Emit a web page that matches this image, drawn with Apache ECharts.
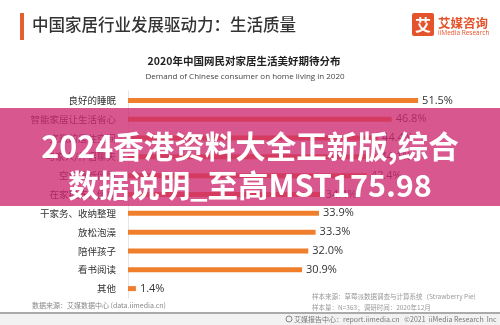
<!DOCTYPE html>
<html>
<head>
<meta charset="utf-8">
<script src="https://cdn.jsdelivr.net/npm/echarts@6/dist/echarts.min.js"></script>
<style>
html,body{margin:0;padding:0;background:#fff;}
#c{width:500px;height:325px;}
</style>
</head>
<body>
<div id="c"></div>
<script>
var categories = ['良好的睡眠','智能家居让生活省心','宽敞的居住空间','与家人/伴侣聊天','空气清新健康','在家锻炼、健身','干家务、收纳整理','放松泡澡','陪伴孩子','看书阅读','其他'];
var values = [51.5, 46.8, 44.4, 44.1, 42.4, 34.4, 33.9, 33.3, 32.0, 30.9, 1.4];

var CJK = '"Noto Sans CJK SC", "Noto Sans", sans-serif';
var chart = echarts.init(document.getElementById('c'), null, {renderer:'canvas'});
chart.setOption({
  backgroundColor: '#ffffff',
  animation: false,
  grid: {left: 128, right: 34, top: 91, bottom: 27},
  xAxis: {type: 'value', min: 0, max: 60, show: false},
  yAxis: {
    type: 'category', data: categories, inverse: true,
    axisLine: {show: true, lineStyle: {color: '#e6e6e6', width: 1}},
    axisTick: {show: false},
    axisLabel: {color: '#333', fontSize: 9.5, fontFamily: CJK, margin: 12}
  },
  series: [{
    type: 'bar', data: values, barWidth: 5,
    itemStyle: {color: '#EF7F2D'},
    label: {show: true, position: 'right', distance: 4, color: '#333', fontSize: 11,
      fontFamily: 'Open Sans, sans-serif',
      formatter: function(p){ return p.value.toFixed(1) + '%'; }}
  }],
  graphic: [
    {type:'rect', shape:{x:20,y:13,width:4,height:27}, style:{fill:'#E4602E'}},
    {type:'text', left:32, top:16, style:{text:'中国家居行业发展驱动力：生活质量', fill:'#333', font:'500 16.5px ' + CJK}},
    {type:'rect', shape:{x:412,y:13,width:22,height:23, r:2}, style:{fill:'#E4532B'}},
    {type:'text', x:423, y:24.5, style:{text:'艾', fill:'#fff', font:'bold 16px ' + CJK, align:'center', verticalAlign:'middle'}},
    {type:'text', x:438, y:23, style:{text:'艾媒咨询', fill:'#E4532B', font:'bold 12.5px ' + CJK, verticalAlign:'middle'}},
    {type:'text', x:438, y:33, style:{text:'iiMedia Research', fill:'#E4532B', font:'6.5px "Open Sans", sans-serif', verticalAlign:'middle'}},
    {type:'text', x:244, y:61, style:{text:'2020年中国网民对家居生活美好期待分布', fill:'#222', font:'bold 10.5px ' + CJK, align:'center', verticalAlign:'middle'}},
    {type:'text', x:245, y:77, style:{text:'Demand of Chinese consumer on home living in 2020', fill:'#444', font:'8px "Open Sans", sans-serif', align:'center', verticalAlign:'middle'}},
    {type:'text', x:32, y:305, style:{text:'数据来源：艾媒数据中心 (data.iimedia.cn)', fill:'#888', font:'7px ' + CJK, verticalAlign:'middle'}},
    {type:'text', x:312, y:297, style:{text:'样本来源：草莓派数据调查与计算系统（Strawberry Pie)', fill:'#999', font:'6.5px ' + CJK, verticalAlign:'middle'}},
    {type:'text', x:312, y:308, style:{text:'样本量：N=363；调研时间：2020年12月', fill:'#999', font:'6.5px ' + CJK, verticalAlign:'middle'}},
    {type:'rect', shape:{x:0,y:312,width:500,height:13}, style:{fill:'#f2f2f2'}},
    {type:'rect', shape:{x:0,y:312,width:500,height:2}, style:{fill:'#aaaaaa'}},
    {type:'circle', shape:{cx:289,cy:319,r:3}, style:{fill:'none', stroke:'#888', lineWidth:1}},
    {type:'text', x:294, y:319, style:{text:'艾媒报告中心：report.iimedia.cn   ©2021  iiMedia Research  Inc', fill:'#777', font:'7px ' + CJK, verticalAlign:'middle'}},
    {type:'rect', z:100, shape:{x:0,y:108,width:500,height:98}, style:{fill:'rgba(205,40,110,0.78)'}},
    {type:'text', z:101, x:250, y:146, style:{text:'2024香港资料大全正新版,综合', fill:'#fff', font:'bold 30.5px ' + CJK, align:'center', verticalAlign:'middle', shadowColor:'rgba(0,0,0,0.35)', shadowBlur:2, shadowOffsetX:1, shadowOffsetY:1}},
    {type:'text', z:101, x:250, y:185, style:{text:'数据说明_至高MST175.98', fill:'#fff', font:'bold 30.5px ' + CJK, align:'center', verticalAlign:'middle', shadowColor:'rgba(0,0,0,0.35)', shadowBlur:2, shadowOffsetX:1, shadowOffsetY:1}}
  ]
});
</script>
</body>
</html>
